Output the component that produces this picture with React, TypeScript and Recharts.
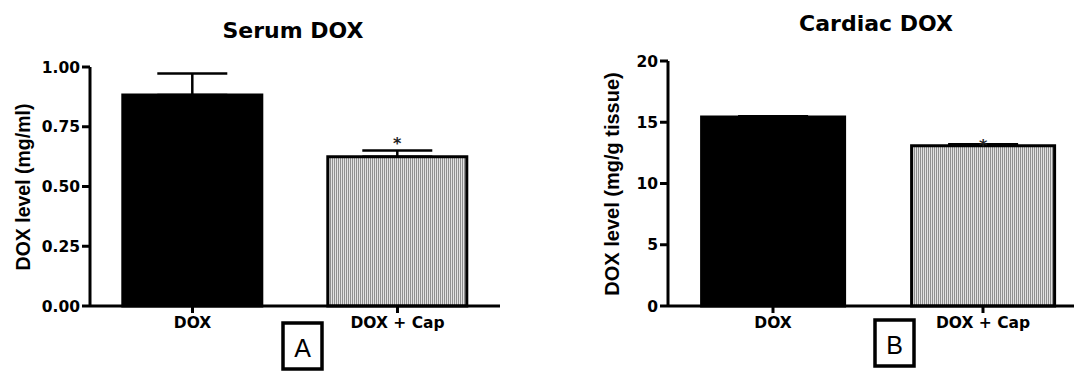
import React from 'react';
import { BarChart, Bar, XAxis, YAxis, ErrorBar, Cell, LabelList, Label } from 'recharts';

// group names on the x axis
const groups = ['DOX', 'DOX + Cap'];
const significance = ['', '*'];

// panel A: serum DOX (mg/ml), mean + upper SEM
const serumMeans = [0.883, 0.624];
const serumErrors = [0.09, 0.027];
const serumTicks = [0, 0.25, 0.5, 0.75, 1];

// panel B: cardiac DOX (mg/g tissue)
const cardiacMeans = [15.43, 13.09];
const cardiacErrors = [0.05, 0.12];
const cardiacTicks = [0, 5, 10, 15, 20];

const barFills = ['#000', 'url(#stripes)'];
const barStrokes = ['#000', '#000'];

const serumData = groups.map((g, i) => ({
  group: g,
  value: serumMeans[i],
  err: [0, serumErrors[i]],
  sig: significance[i],
}));

const cardiacData = groups.map((g, i) => ({
  group: g,
  value: cardiacMeans[i],
  err: [0, cardiacErrors[i]],
  sig: significance[i],
}));

const tickStyle = {
  fill: '#000',
  fontSize: 15.5,
  fontWeight: 700,
  fontFamily: '"DejaVu Sans", sans-serif',
};

const xTickStyle = { ...tickStyle, fontSize: 15.5 };

// asterisk above the treated bar
const sigLabel = (offset: number) => (props: any) => {
  const { x, y, width, value } = props;
  if (!value) return null;
  return (
    <text
      x={Number(x) + Number(width) / 2}
      y={Number(y) - offset}
      textAnchor="middle"
      fontFamily='"DejaVu Sans", sans-serif'
      fontWeight={700}
      fontSize={16}
      fill="#222"
    >
      {value}
    </text>
  );
};

const yLabel = (text: string, x: number, y: number, size: number) => () => (
  <text
    x={x}
    y={y}
    transform={`rotate(-90 ${x} ${y})`}
    textAnchor="middle"
    fontFamily='"Liberation Sans", Arial, sans-serif'
    fontWeight={700}
    fontSize={size}
    fill="#000"
  >
    {text}
  </text>
);

interface PanelProps {
  data: any[];
  ticks: number[];
  width: number;
  top: number;
  axisWidth: number;
  fmt: (v: number) => string;
  label: string;
  labelX: number;
  labelY: number;
  labelSize: number;
  sigOffset: number;
}

const Panel: React.FC<PanelProps> = (p) => (
  <BarChart
    width={p.width}
    height={371}
    data={p.data}
    margin={{ top: p.top, right: 0, left: 0, bottom: 0 }}
    barCategoryGap="16%"
  >
    <XAxis
      dataKey="group"
      height={65}
      axisLine={{ stroke: '#000', strokeWidth: 3 }}
      tickLine={{ stroke: '#000', strokeWidth: 3 }}
      tickSize={7}
      tickMargin={4}
      tick={xTickStyle}
      interval={0}
    />
    <YAxis
      type="number"
      width={p.axisWidth}
      domain={[p.ticks[0], p.ticks[p.ticks.length - 1]]}
      ticks={p.ticks}
      tickFormatter={p.fmt}
      axisLine={{ stroke: '#000', strokeWidth: 3 }}
      tickLine={{ stroke: '#000', strokeWidth: 3 }}
      tickSize={8}
      tickMargin={2}
      tick={tickStyle}
      interval={0}
    >
      <Label content={yLabel(p.label, p.labelX, p.labelY, p.labelSize)} />
    </YAxis>
    <Bar dataKey="value" isAnimationActive={false} strokeWidth={3}>
      {p.data.map((_, i) => (
        <Cell key={i} fill={barFills[i]} stroke={barStrokes[i]} />
      ))}
      <ErrorBar dataKey="err" direction="y" width={35} stroke="#000" strokeWidth={2.5} />
      <LabelList dataKey="sig" content={sigLabel(p.sigOffset)} />
    </Bar>
  </BarChart>
);

const boxText = {
  fontFamily: '"Liberation Sans", Arial, sans-serif',
  fontSize: 25,
  fill: '#000',
};

const titleText = {
  fontFamily: '"DejaVu Sans", sans-serif',
  fontSize: 22,
  fontWeight: 700,
  fill: '#000',
};

export default function App() {
  return (
    <div
      style={{
        position: 'absolute',
        left: 0,
        top: 0,
        width: 1074,
        height: 371,
        overflow: 'hidden',
        background: '#fff',
      }}
    >
      <svg width={0} height={0} style={{ position: 'absolute' }}>
        <defs>
          <pattern id="stripes" width={2} height={4} patternUnits="userSpaceOnUse">
            <rect x={0} y={0} width={1} height={4} fill="#8f8f8f" />
            <rect x={1} y={0} width={1} height={4} fill="#e2e2e2" />
          </pattern>
        </defs>
      </svg>

      <div style={{ position: 'absolute', left: 0, top: 0 }}>
        <Panel
          data={serumData}
          ticks={serumTicks}
          width={500}
          top={67}
          axisWidth={90}
          fmt={(v) => v.toFixed(2)}
          label="DOX level (mg/ml)"
          labelX={30}
          labelY={187}
          labelSize={19.5}
          sigOffset={8}
        />
      </div>
      <div style={{ position: 'absolute', left: 560, top: 0 }}>
        <Panel
          data={cardiacData}
          ticks={cardiacTicks}
          width={528}
          top={61}
          axisWidth={108}
          fmt={(v) => String(v)}
          label="DOX level (mg/g tissue)"
          labelX={59}
          labelY={184}
          labelSize={20}
          sigOffset={-5}
        />
      </div>

      <svg
        width={1074}
        height={371}
        style={{ position: 'absolute', left: 0, top: 0, pointerEvents: 'none' }}
      >
        <text x={293} y={38} textAnchor="middle" style={titleText}>Serum DOX</text>
        <text x={876} y={31} textAnchor="middle" style={titleText}>Cardiac DOX</text>

        <rect x={283} y={323} width={39} height={46} fill="#fff" stroke="#000" strokeWidth={3.5} />
        <text x={302.5} y={357} textAnchor="middle" style={boxText}>A</text>

        <rect x={875} y={320} width={39} height={46} fill="#fff" stroke="#000" strokeWidth={3.5} />
        <text x={894.5} y={354} textAnchor="middle" style={boxText}>B</text>
      </svg>
    </div>
  );
}
